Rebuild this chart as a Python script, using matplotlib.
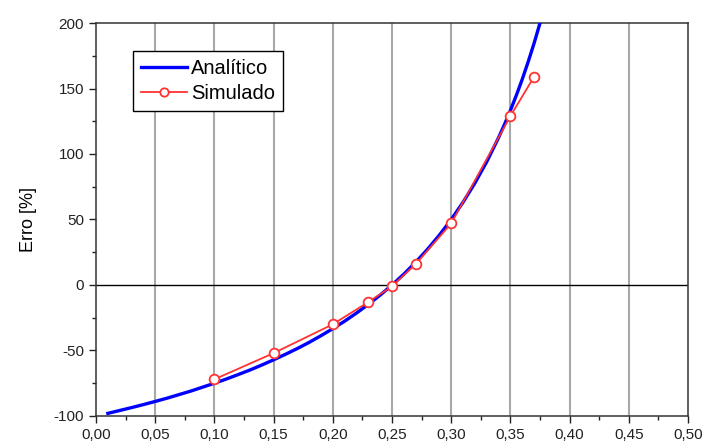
import numpy as np
import matplotlib
matplotlib.use('Agg')
import matplotlib.pyplot as plt
from matplotlib.ticker import MultipleLocator, FuncFormatter

plt.rcParams['font.family'] = ['Liberation Sans', 'DejaVu Sans']

# Analytic curve
x_analitico = [0.01, 0.02, 0.03, 0.04, 0.05, 0.06, 0.07, 0.08, 0.09, 0.10,
               0.11, 0.12, 0.13, 0.14, 0.15, 0.16, 0.17, 0.18, 0.19, 0.20,
               0.21, 0.22, 0.23, 0.24, 0.25, 0.26, 0.27, 0.28, 0.29, 0.30,
               0.31, 0.32, 0.33, 0.34, 0.345, 0.35, 0.355, 0.36, 0.365, 0.37, 0.375]
y_analitico = [-98, -95.8, -93.6, -91.3, -88.9, -86.4, -83.7, -81, -78, -75,
               -71.8, -68.4, -64.9, -61.1, -57.1, -52.9, -48.5, -43.8, -38.7, -33.3,
               -27.6, -21.4, -14.8, -7.7, 0, 8.3, 17.4, 27.3, 38.1, 50,
               63.2, 77.8, 94.1, 112.5, 122.6, 133.3, 144.8, 157.1, 170.4, 184.6, 200]

# Simulated points
x_simulado = [0.10, 0.15, 0.20, 0.23, 0.25, 0.27, 0.30, 0.35, 0.37]
y_simulado = [-72, -52, -30, -13, -1, 16, 47, 129, 159]

fig = plt.figure(figsize=(7.03, 4.45), dpi=100)
ax = fig.add_axes([0.1366, 0.0652, 0.8421, 0.8831])

for xv in np.arange(0.05, 0.5, 0.05):
    ax.axvline(xv, color='#a8a8a8', lw=1.5, zorder=1)
ax.axhline(0, color='black', lw=1.0, zorder=1)

ax.plot(x_analitico, y_analitico, color='#0000ff', lw=2.4, label='Analítico', zorder=3)
ax.plot(x_simulado, y_simulado, color='#ff3333', lw=1.3, marker='o', ms=7,
        mfc='white', mec='#ff3333', mew=1.3, label='Simulado', zorder=4)

ax.set_xlim(0, 0.5)
ax.set_ylim(-100, 200)
ax.xaxis.set_major_locator(MultipleLocator(0.05))
ax.xaxis.set_minor_locator(MultipleLocator(0.025))
ax.yaxis.set_major_locator(MultipleLocator(50))
ax.yaxis.set_minor_locator(MultipleLocator(25))
ax.xaxis.set_major_formatter(FuncFormatter(lambda v, p: f'{v:.2f}'.replace('.', ',')))
ax.yaxis.set_major_formatter(FuncFormatter(lambda v, p: f'{v:.0f}'))

ax.tick_params(which='both', direction='out', top=False, right=False, labelsize=11,
               colors='#222222')
ax.tick_params(which='major', length=5, width=1)
ax.tick_params(which='minor', length=3, width=1)
for s in ax.spines.values():
    s.set_linewidth(1.1)
    s.set_color('#333333')

ax.set_ylabel('Erro [%]', fontsize=13, labelpad=12)

leg = ax.legend(loc='upper left', bbox_to_anchor=(0.062, 0.93), fontsize=14.5,
                frameon=True, fancybox=False, edgecolor='black', framealpha=1,
                handlelength=2.3, handletextpad=0.2, borderpad=0.4, labelspacing=0.3,
                borderaxespad=0)
leg.get_frame().set_linewidth(1.0)
for h in leg.legend_handles:
    h.set_markersize(6)

fig.savefig('out.png', dpi=100)
